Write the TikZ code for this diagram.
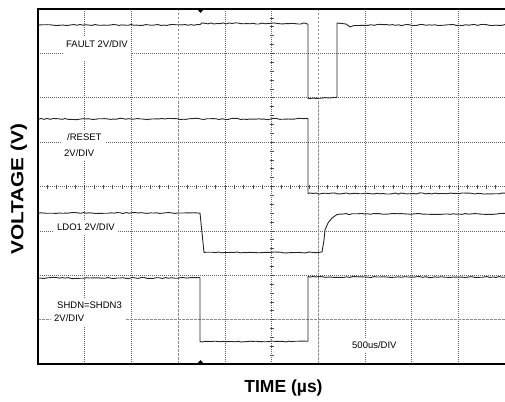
\documentclass[tikz,border=0pt]{standalone}
\usepackage{fontspec}
\setmainfont{Liberation Sans}
\usepackage{graphicx}

\begin{document}
\begin{tikzpicture}[x=1pt,y=-1pt]%
  \tikzstyle{grid}=[black!60,line width=0.6pt,dash pattern=on 0.7pt off 1.3pt]
  \tikzstyle{cursor}=[black!45,line width=0.7pt,dash pattern=on 2.5pt off 1.5pt]
  \tikzstyle{tick}=[black!70,line width=0.6pt]
  \tikzstyle{trace}=[black!85,line width=0.9pt,line join=round]
  \tikzstyle{lbl}=[fill=white,anchor=base west,align=left,inner xsep=3pt,inner ysep=4pt,
    font=\fontsize{9.5}{16}\selectfont]
  \tikzstyle{axlbl}=[anchor=base,font=\bfseries\fontsize{17.5}{20}\selectfont]
  \useasboundingbox (0,0) rectangle (505,401);
  \pgfmathsetseed{11}
  \foreach \k in {1,2,4,5,7,8,9} \draw[grid] ({38+46.7*\k},9) -- ({38+46.7*\k},364);
  \foreach \k in {1,...,6} \draw[grid] (38,{9+44.375*\k}) -- (505,{9+44.375*\k});
  \foreach \k in {3,6} \draw[cursor] ({38+46.7*\k},9) -- ({38+46.7*\k},364);
  \draw[cursor] (38,319.6) -- (505,319.6);
  \foreach \i in {1,...,49} \draw[tick] ({38+9.34*\i},184.5) -- ++(0,4);
  \foreach \j in {1,...,39} \draw[tick] (269.5,{9+8.875*\j}) -- ++(4,0);
  \node[lbl,text depth=10pt] (fault) at (63,47.3) {FAULT 2V/DIV};
  \node[lbl] (reset) at (61,156.5) {\hspace{3pt}/RESET\\2V/DIV};
  \node[lbl] (ldo) at (54,230.5) {LDO1 2V/DIV};
  \node[lbl,font=\fontsize{9.5}{13}\selectfont] (shdn) at (51,321.5) {\hspace{3pt}SHDN=SHDN3\\2V/DIV};
  \node[lbl] (tdiv) at (349,348.4) {500us/DIV};
  \draw[trace] plot[domain=38:200,samples=55] (\x,{25+0.6*rand})
    -- plot[domain=202:307,samples=36] (\x,{23.5+0.6*rand})
    -- (308,24) -- (308,98.8)
    -- plot[domain=310:336,samples=10] (\x,{98.5-0.04*(\x-310)+0.4*rand})
    -- (337,97.4) -- (337,23) -- (346,24) -- (350,27) -- (354,25.5)
    -- plot[domain=356:505,samples=50] (\x,{25+0.6*rand});
  \draw[trace] plot[domain=38:307,samples=90] (\x,{119+0.7*rand})
    -- (308,119) -- (308,193.5)
    -- plot[domain=310:505,samples=65] (\x,{193.5+0.6*rand});
  \draw[trace] plot[domain=38:199,samples=54] (\x,{213+0.5*rand})
    -- (200,213) -- (204,252.5)
    -- plot[domain=206:321,samples=38] (\x,{252.5+0.5*rand})
    -- (322,252) -- (324,240) -- (325,230) -- (328,223) -- (332,218) -- (337,214.5)
    -- plot[domain=340:505,samples=55] (\x,{214+0.6*rand});
  \draw[trace] plot[domain=38:199,samples=54] (\x,{278+0.6*rand})
    -- (200,278) -- (200,341.5)
    -- plot[domain=202:307,samples=36] (\x,{341.5+0.5*rand})
    -- (308,341) -- (308,276.5)
    -- plot[domain=310:505,samples=65] (\x,{277+0.6*rand});
  \draw[black,line width=1.1pt] (505,9) -- (38,9) -- (38,364) -- (505,364);
  \fill (197,9) -- (204,9) -- (200.5,13) -- cycle;
  \fill (197,364) -- (204,364) -- (200.5,360) -- cycle;
  \node[axlbl] (xlbl) at (283.5,392.3) {TIME (µs)};
  \node[axlbl,rotate=90] (ylbl) at (23.3,189.3) {\scalebox{1.19}[1]{VOLTAGE (V)}};
\end{tikzpicture}
\end{document}
